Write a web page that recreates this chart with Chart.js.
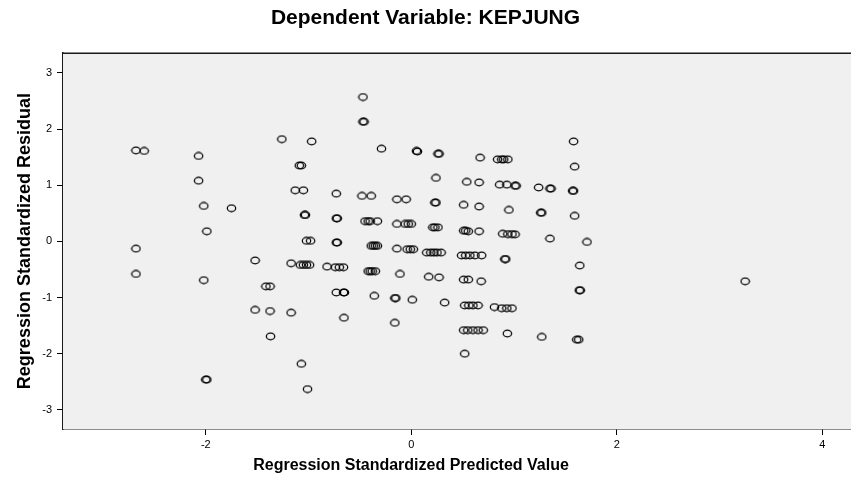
<!DOCTYPE html>
<html>
<head>
<meta charset="utf-8">
<script src="https://cdn.jsdelivr.net/npm/chart.js@4.4.1/dist/chart.umd.min.js"></script>
<style>
  body { margin: 0; background: #fff; }
  #wrap { width: 851px; height: 483px; }
</style>
</head>
<body>
<div id="wrap"><canvas id="grafico"></canvas></div>
<script>
// valores (predicho estandarizado, residuo estandarizado)
const predichos = [
  -2.68, -2.60, -2.07, -2.07, -2.02, -1.75, -1.99, -2.68, -2.68, -1.52, -2.02, -1.52, -2.00, -1.99,
  -0.47, -0.47, -0.46, -1.26, -0.97, -0.29, 0.05, 0.06, -1.09, -1.07,
  -1.13, -1.05, -0.73, -0.48, -0.39, -0.14, -0.05,
  -1.04, -1.03, -0.73, -0.72, -0.45, -0.42, -0.40, -0.33, -0.14, -0.06, -0.03, 0.00,
  -1.02, -0.98, -0.73, -0.72, -0.39, -0.37, -0.35, -0.33, -0.14, -0.04, -0.01, 0.02,
  -1.17, -1.08, -1.05, -1.02, -0.99, -0.82, -0.74, -0.70, -0.66,
  -0.42, -0.40, -0.38, -0.35, -0.11, -1.415, -1.375, -0.73, -0.66, -0.65,
  -0.36, -0.16, -0.15, 0.01, -1.375, -1.17, -0.655, -0.16, -1.37, -1.07, -1.01,
  0.26, 0.27, 1.58, 0.67, 0.84, 0.88, 0.90, 0.94, 1.59, 0.24, 0.54, 0.66,
  0.86, 0.93, 1.01, 1.02, 1.24, 1.35, 1.36, 1.57, 1.58,
  0.23, 0.24, 0.51, 0.66, 0.95, 1.26, 1.27, 1.59,
  0.21, 0.23, 0.26, 0.51, 0.53, 0.555, 0.66, 0.89, 0.94, 0.98, 1.01, 1.35, 1.71,
  0.15, 0.19, 0.22, 0.25, 0.29, 0.49, 0.53, 0.57, 0.62, 0.685, 0.91, 0.92, 1.64,
  0.17, 0.27, 0.51, 0.555, 0.68, 1.635, 1.645, 0.325,
  0.52, 0.56, 0.60, 0.65, 0.81, 0.88, 0.93, 0.98,
  0.51, 0.55, 0.60, 0.65, 0.70, 0.935, 1.27, 1.61, 1.63, 0.52, 3.25,
];
const residuos = [
  1.62, 1.61, 1.52, 1.08, 0.63, 0.59, 0.18, -0.13, -0.58, -0.34, -0.69, -1.22, -2.46, -2.46,
  2.57, 2.13, 2.13, 1.82, 1.78, 1.65, 1.61, 1.60, 1.35, 1.35,
  0.91, 0.91, 0.85, 0.81, 0.81, 0.75, 0.75,
  0.47, 0.47, 0.41, 0.41, 0.36, 0.36, 0.36, 0.36, 0.31, 0.31, 0.31, 0.31,
  0.01, 0.01, -0.02, -0.02, -0.08, -0.08, -0.08, -0.08, -0.13, -0.14, -0.14, -0.14,
  -0.39, -0.42, -0.42, -0.42, -0.42, -0.45, -0.46, -0.46, -0.46,
  -0.53, -0.53, -0.53, -0.53, -0.58, -0.80, -0.80, -0.91, -0.91, -0.91,
  -0.97, -1.01, -1.01, -1.04, -1.24, -1.27, -1.36, -1.45, -1.69, -2.18, -2.63,
  1.56, 1.56, 1.78, 1.49, 1.46, 1.46, 1.46, 1.46, 1.33, 1.13, 1.06, 1.05,
  1.01, 1.01, 0.99, 0.99, 0.96, 0.94, 0.94, 0.90, 0.90,
  0.69, 0.69, 0.65, 0.62, 0.56, 0.51, 0.51, 0.455,
  0.25, 0.25, 0.25, 0.19, 0.19, 0.18, 0.18, 0.135, 0.13, 0.13, 0.125, 0.05, -0.01,
  -0.20, -0.20, -0.20, -0.20, -0.20, -0.25, -0.25, -0.25, -0.25, -0.25, -0.315, -0.315, -0.43,
  -0.63, -0.64, -0.68, -0.68, -0.71, -0.87, -0.87, -1.09,
  -1.14, -1.14, -1.14, -1.14, -1.17, -1.19, -1.19, -1.19,
  -1.58, -1.58, -1.58, -1.58, -1.58, -1.64, -1.70, -1.75, -1.75, -2.00, -0.71,
];
const ticksX = [-2, 0, 2, 4];
const ticksY = [-3, -2, -1, 0, 1, 2, 3];

const puntos = predichos.map((x, i) => ({ x: x, y: residuos[i] }));

// circulito hueco un poco ovalado, como el de SPSS
const marca = document.createElement("canvas");
marca.width = 11;
marca.height = 9;
const mctx = marca.getContext("2d");
mctx.strokeStyle = "#000";
mctx.lineWidth = 1.25;
mctx.beginPath();
mctx.ellipse(5.5, 4.5, 4.2, 3.3, 0, 0, Math.PI * 2);
mctx.stroke();

const FUENTE = "'Liberation Sans', Arial, sans-serif";

// fondo gris del area, linea de arriba y titulo del eje x
const marco = {
  id: "marco",
  beforeDatasetsDraw(chart) {
    const { ctx, chartArea } = chart;
    ctx.save();
    ctx.fillStyle = "#f0f0f0";
    ctx.fillRect(chartArea.left, chartArea.top, chartArea.right - chartArea.left, chartArea.bottom - chartArea.top);
    ctx.restore();
  },
  afterDraw(chart) {
    const { ctx, chartArea } = chart;
    ctx.save();
    ctx.strokeStyle = "#1a1a1a";
    ctx.lineWidth = 1.5;
    ctx.beginPath();
    ctx.moveTo(chartArea.left, chartArea.top);
    ctx.lineTo(chartArea.right, chartArea.top);
    ctx.stroke();
    ctx.fillStyle = "#000";
    ctx.font = "bold 16px " + FUENTE;
    ctx.textAlign = "center";
    ctx.textBaseline = "middle";
    ctx.fillText("Regression Standardized Predicted Value", chartArea.left + 348, 466);
    ctx.restore();
  },
};

new Chart(document.getElementById("grafico"), {
  type: "scatter",
  data: {
    datasets: [
      {
        data: puntos,
        pointStyle: marca,
        borderColor: "#000",
        backgroundColor: "transparent",
      },
    ],
  },
  options: {
    responsive: true,
    maintainAspectRatio: false,
    animation: false,
    events: [],
    // sin autoPadding el area llega hasta el borde derecho, como en el original
    layout: { padding: 0, autoPadding: false },
    scales: {
      x: {
        type: "linear",
        min: -3.39,
        max: 4.28,
        afterFit: (s) => {
          s.height = 54;
          s.paddingLeft = 0;
          s.paddingRight = 0;
        },
        afterBuildTicks: (s) => { s.ticks = ticksX.map((v) => ({ value: v })); },
        border: { display: true, color: "#1a1a1a", width: 1.5 },
        grid: { drawOnChartArea: false, tickLength: 6, tickColor: "#000", tickWidth: 1 },
        ticks: { color: "#000", padding: 3, maxRotation: 0, font: { family: FUENTE, size: 11 } },
      },
      y: {
        min: -3.34,
        max: 3.35,
        afterFit: (s) => {
          s.width = 63;
          s.paddingTop = 0;
          s.paddingBottom = 0;
        },
        afterBuildTicks: (s) => { s.ticks = ticksY.map((v) => ({ value: v })); },
        border: { display: true, color: "#1a1a1a", width: 1.5 },
        grid: { drawOnChartArea: false, tickLength: 6, tickColor: "#000", tickWidth: 1 },
        ticks: { color: "#000", padding: 5, font: { family: FUENTE, size: 11 } },
        title: {
          display: true,
          text: "Regression Standardized Residual",
          color: "#000",
          padding: { top: 14, bottom: 0 },
          font: { family: FUENTE, size: 18, weight: "bold" },
        },
      },
    },
    plugins: {
      legend: { display: false },
      tooltip: { enabled: false },
      title: {
        display: true,
        text: "Dependent Variable: KEPJUNG",
        color: "#000",
        padding: { top: 6, bottom: 22 },
        font: { family: FUENTE, size: 21, weight: "bold" },
      },
    },
  },
  plugins: [marco],
});
</script>
</body>
</html>
